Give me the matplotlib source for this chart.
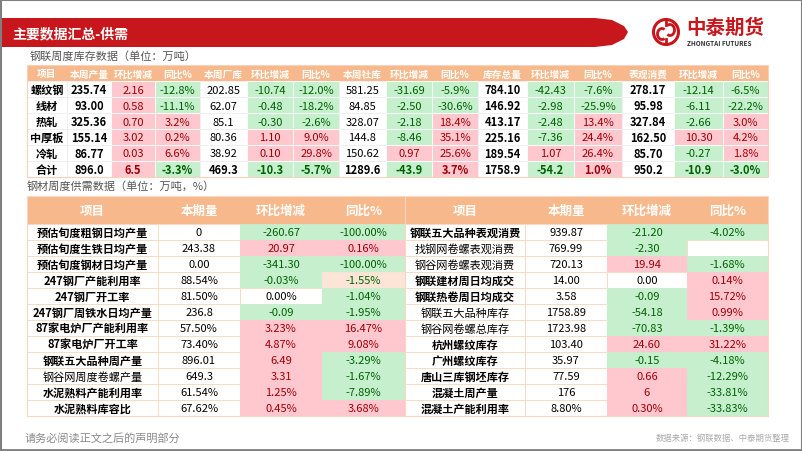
import matplotlib
matplotlib.use("Agg")
import matplotlib.pyplot as plt
from matplotlib.patches import Rectangle, Polygon, Circle, Arc

plt.rcParams['font.family'] = ['Noto Sans CJK SC', 'DejaVu Sans']

# ---- data: weekly inventory table ----
top_header = ['项目', '本周产量', '环比增减', '同比%', '本周厂库', '环比增减', '同比%',
              '本周社库', '环比增减', '同比%', '库存总量', '环比增减', '同比%',
              '表观消费', '环比增减', '同比%']
top_items = ['螺纹钢', '线材', '热轧', '中厚板', '冷轧', '合计']
prod = ['235.74', '93.00', '325.36', '155.14', '86.77', '896.0']
prod_wow = ['2.16', '0.58', '0.70', '3.02', '0.03', '6.5']
prod_yoy = ['-12.8%', '-11.1%', '3.2%', '0.2%', '6.6%', '-3.3%']
mill = ['202.85', '62.07', '85.1', '80.36', '38.92', '469.3']
mill_wow = ['-10.74', '-0.48', '-0.30', '1.10', '0.10', '-10.3']
mill_yoy = ['-12.0%', '-18.2%', '-2.6%', '9.0%', '29.8%', '-5.7%']
social = ['581.25', '84.85', '328.07', '144.8', '150.62', '1289.6']
social_wow = ['-31.69', '-2.50', '-2.18', '-8.46', '0.97', '-43.9']
social_yoy = ['-5.9%', '-30.6%', '18.4%', '35.1%', '25.6%', '3.7%']
total = ['784.10', '146.92', '413.17', '225.16', '189.54', '1758.9']
total_wow = ['-42.43', '-2.98', '-2.48', '-7.36', '1.07', '-54.2']
total_yoy = ['-7.6%', '-25.9%', '13.4%', '24.4%', '26.4%', '1.0%']
cons = ['278.17', '95.98', '327.84', '162.50', '85.70', '950.2']
cons_wow = ['-12.14', '-6.11', '-2.66', '10.30', '-0.27', '-10.9']
cons_yoy = ['-6.5%', '-22.2%', '3.0%', '4.2%', '1.8%', '-3.0%']

# ---- data: supply / demand table ----
sd_header = ['项目', '本期量', '环比增减', '同比%']
left_items = ['预估旬度粗钢日均产量', '预估旬度生铁日均产量', '预估旬度钢材日均产量',
              '247钢厂产能利用率', '247钢厂开工率', '247钢厂周铁水日均产量',
              '87家电炉厂产能利用率', '87家电炉厂开工率', '钢联五大品种周产量',
              '钢谷网周度卷螺产量', '水泥熟料产能利用率', '水泥熟料库容比']
left_bold = [1, 1, 1, 1, 1, 1, 1, 1, 1, 0, 1, 1]
left_val = ['0', '243.38', '0.00', '88.54%', '81.50%', '236.8', '57.50%', '73.40%',
            '896.01', '649.3', '61.54%', '67.62%']
left_wow = ['-260.67', '20.97', '-341.30', '-0.03%', '0.00%', '-0.09', '3.23%', '4.87%',
            '6.49', '3.31', '1.25%', '0.45%']
left_yoy = ['-100.00%', '0.16%', '-100.00%', '-1.55%', '-1.04%', '-1.95%', '16.47%',
            '9.08%', '-3.29%', '-1.67%', '-7.89%', '3.68%']
right_items = ['钢联五大品种表观消费', '找钢网卷螺表观消费', '钢谷网卷螺表观消费',
               '钢联建材周日均成交', '钢联热卷周日均成交', '钢联五大品种库存',
               '钢谷网卷螺总库存', '杭州螺纹库存', '广州螺纹库存', '唐山三库钢坯库存',
               '混凝土周产量', '混凝土产能利用率']
right_bold = [1, 0, 0, 1, 1, 0, 0, 1, 1, 1, 1, 1]
right_val = ['939.87', '769.99', '720.13', '14.00', '3.58', '1758.89', '1723.98',
             '103.40', '35.97', '77.59', '176', '8.80%']
right_wow = ['-21.20', '-2.30', '19.94', '0.00', '-0.09', '-54.18', '-70.83', '24.60',
             '-0.15', '0.66', '6', '0.30%']
right_yoy = ['-4.02%', '', '-1.68%', '0.14%', '15.72%', '0.99%', '-1.39%', '31.22%',
             '-4.18%', '-12.29%', '-33.81%', '-33.83%']

HEAD = '#F7B98B'
PINK, PINK_T = '#FFC7CE', '#9C0006'
GREEN, GREEN_T = '#C6EFCE', '#006100'
PEACH = '#FCE4D6'
LINE = '#F8D8C2'
RED = '#C8161D'


def change_style(s):
    if s == '' or float(s.rstrip('%')) == 0:
        return 'white', 'black'
    if s.startswith('-'):
        return GREEN, GREEN_T
    return PINK, PINK_T


fig = plt.figure(figsize=(8.02, 4.52), dpi=100)
ax = fig.add_axes([0, 0, 1, 1])
ax.set_xlim(0, 802)
ax.set_ylim(452, 0)
ax.axis('off')


def cell(x0, x1, y0, y1, text, bg='white', fc='black', bold=False, size=8, ec=LINE):
    ax.add_patch(Rectangle((x0, y0), x1 - x0, y1 - y0, facecolor=bg, edgecolor=ec, lw=0.6))
    ax.text((x0 + x1) / 2, (y0 + y1) / 2 + 0.5, text, ha='center', va='center',
            fontsize=size, color=fc, fontweight='bold' if bold else 'normal')


# ---- banner ----
banner = Polygon([(0, 19), (595, 19), (612, 21), (624, 27), (628, 33), (624, 40),
                  (612, 46), (595, 48), (0, 48)], closed=True, facecolor=RED, edgecolor='none')
ax.add_patch(banner)
ax.text(12, 34, '主要数据汇总-供需', color='white', fontsize=10, fontweight='bold', va='center')

# logo
ax.add_patch(Circle((666, 33), 12.5, facecolor='none', edgecolor=RED, lw=2.2))
ax.add_patch(Arc((662, 35), 9, 11, theta1=60, theta2=300, color=RED, lw=2))
ax.add_patch(Arc((670, 31), 9, 11, theta1=-120, theta2=120, color=RED, lw=2))
ax.plot([666, 666], [21, 26], color=RED, lw=2)
ax.plot([666, 666], [40, 45], color=RED, lw=2)
ax.text(686, 28, '中泰期货', color=RED, fontsize=14, fontweight='bold', va='center')
ax.text(687, 43, 'ZHONGTAI FUTURES', color='#333333', fontsize=4.6, fontweight='bold', va='center')

# ---- top table ----
ax.text(30, 57, '钢联周度库存数据（单位：万吨）', fontsize=8, color='#555555', va='center')
tx = [27, 67, 111, 155, 200, 247, 293, 339, 386, 432, 478, 527, 574, 622, 674, 723, 768]
ty0, th_h, tr_h = 66, 16, 16
ax.add_patch(Rectangle((tx[0], ty0), tx[-1] - tx[0], th_h, facecolor=HEAD, edgecolor='none'))
for j, h in enumerate(top_header):
    ax.text((tx[j] + tx[j + 1]) / 2, ty0 + th_h / 2 + 0.5, h, ha='center', va='center',
            fontsize=7, color='white', fontweight='bold')

groups = [(prod, prod_wow, prod_yoy, True), (mill, mill_wow, mill_yoy, False),
          (social, social_wow, social_yoy, False), (total, total_wow, total_yoy, True),
          (cons, cons_wow, cons_yoy, True)]
for i, name in enumerate(top_items):
    y0 = ty0 + th_h + i * tr_h
    y1 = y0 + tr_h
    last = i == len(top_items) - 1
    cell(tx[0], tx[1], y0, y1, name, bold=True, ec='#EEEEEE')
    for g, (lvl, wow, yoy, bold_lvl) in enumerate(groups):
        c = 1 + 3 * g
        cell(tx[c], tx[c + 1], y0, y1, lvl[i], bold=bold_lvl or last, ec='#EEEEEE')
        bg, fc = change_style(wow[i])
        cell(tx[c + 1], tx[c + 2], y0, y1, wow[i], bg=bg, fc=fc, bold=last, ec='white')
        bg, fc = change_style(yoy[i])
        cell(tx[c + 2], tx[c + 3], y0, y1, yoy[i], bg=bg, fc=fc, bold=last, ec='white')
ax.add_patch(Rectangle((tx[0], ty0), tx[-1] - tx[0], th_h + 6 * tr_h,
                       facecolor='none', edgecolor='#F3D3BE', lw=0.8))

# ---- supply / demand table ----
ax.text(27, 186, '钢材周度供需数据（单位：万吨，%）', fontsize=8, color='#555555', va='center')
by0, bh_h, br_h = 197, 28, 16
for xs, items, bolds, vals, wows, yoys in [
        ([27, 158, 240, 322, 405], left_items, left_bold, left_val, left_wow, left_yoy),
        ([405, 525, 607, 687, 768], right_items, right_bold, right_val, right_wow, right_yoy)]:
    for j, h in enumerate(sd_header):
        cell(xs[j], xs[j + 1], by0, by0 + bh_h, h, bg=HEAD, fc='white', bold=True, size=9, ec=HEAD)
    for i in range(len(items)):
        y0 = by0 + bh_h + i * br_h
        y1 = y0 + br_h
        cell(xs[0], xs[1], y0, y1, items[i], bold=bool(bolds[i]))
        cell(xs[1], xs[2], y0, y1, vals[i])
        bg, fc = change_style(wows[i])
        cell(xs[2], xs[3], y0, y1, wows[i], bg=bg, fc=fc, ec=LINE if bg == 'white' else bg)
        bg, fc = change_style(yoys[i])
        if yoys[i] == '-1.55%':
            bg = PEACH
        cell(xs[3], xs[4], y0, y1, yoys[i], bg=bg, fc=fc, ec=LINE if bg == 'white' else bg)
    ax.add_patch(Rectangle((xs[0], by0), xs[-1] - xs[0], bh_h + 12 * br_h,
                           facecolor='none', edgecolor=LINE, lw=0.8))

# ---- footer ----
ax.text(25, 438, '请务必阅读正文之后的声明部分', fontsize=8, color='#8A8A8A', va='center')
ax.text(790, 438, '数据来源：钢联数据、中泰期货整理', fontsize=6, color='#AAAAAA',
        va='center', ha='right')

# slide frame
ax.add_patch(Rectangle((0.5, 0.5), 801, 451, facecolor='none', edgecolor='#7F7F7F', lw=1.5))
ax.plot([0, 802], [450.5, 450.5], color='#7F7F7F', lw=2)

fig.savefig('out.png', dpi=100)
